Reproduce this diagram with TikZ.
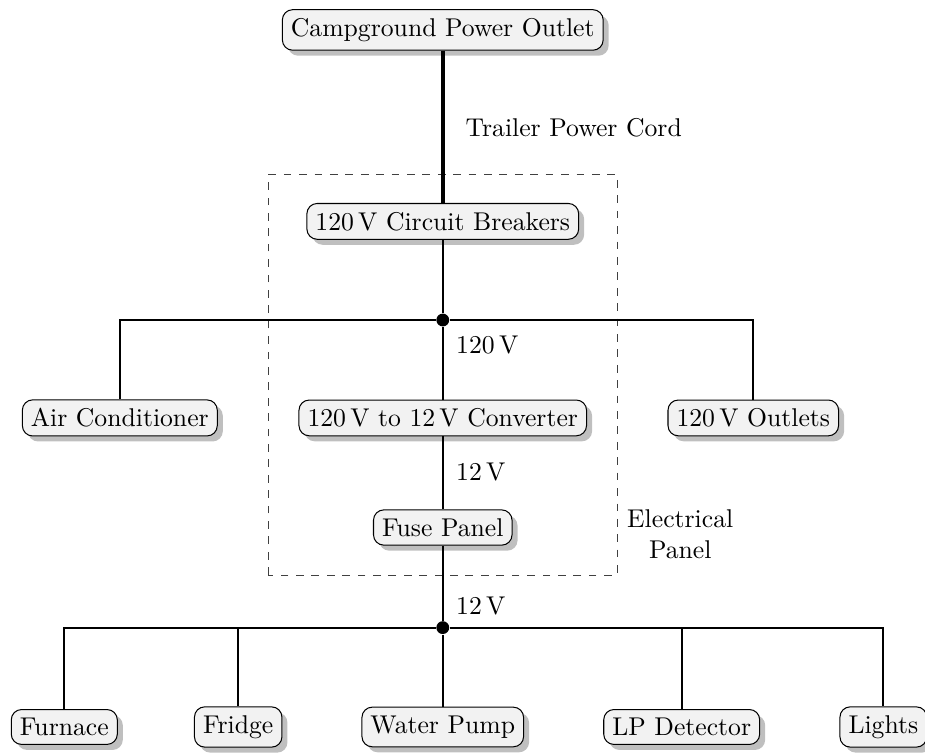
\documentclass[tikz,border=0pt]{standalone}
\usetikzlibrary{shadows}

\tikzset{
  unit/.style={draw, rounded corners=4pt, fill=black!5, drop shadow},
  wire/.style={thick},
  cord/.style={ultra thick},
  junction/.style={circle, fill, inner sep=0pt, minimum size=5pt}
}

\begin{document}
\begin{tikzpicture}

        \useasboundingbox (0,0) rectangle (12.66,10.33);

        % panel outline
        \draw[dashed, black!75] (3.67,2.46) rectangle (8.45,7.94);

        \begin{scope}[every node/.style={unit}]
          \node (1)  at (6.06,9.92) {Campground Power Outlet};
          \node (2)  at (6.06,7.30) {120\,V Circuit Breakers};
          \node (3)  at (1.64,4.61) {Air Conditioner};
          \node (4)  at (6.06,4.61) {120\,V to 12\,V Converter};
          \node (5)  at (10.31,4.61) {120\,V Outlets};
          \node (6)  at (6.06,3.11) {Fuse Panel};
          \node (7)  at (0.88,0.38) {Furnace};
          \node (8)  at (3.26,0.38) {Fridge};
          \node (9)  at (6.06,0.38) {Water Pump};
          \node (10) at (9.33,0.38) {LP Detector};
          \node (11) at (12.09,0.38) {Lights};
        \end{scope}

        \node[junction] (a) at (6.06,5.95) {};
        \node[junction] (b) at (6.06,1.74) {};

        \draw[cord] (1) -- (2);
        \draw[wire] (2) -- (a);
        \draw[wire] (3) |- (a) -| (5);
        \draw[wire] (a) -- (4);
        \draw[wire] (4) -- (6);
        \draw[wire] (6) -- (b);
        \draw[wire] (7) |- (b) -| (11);
        \draw[wire] (8) |- (b);
        \draw[wire] (10) |- (b);
        \draw[wire] (b) -- (9);

        \node[anchor=west] (cordlabel) at (6.25,8.58) {Trailer Power Cord};
        \node[anchor=west] (v1) at (6.12,5.61) {120\,V};
        \node[anchor=west] (v2) at (6.12,3.87) {12\,V};
        \node[anchor=west] (v3) at (6.12,2.04) {12\,V};
        \node[align=center] (panel) at (9.31,3.02) {Electrical\\Panel};

      \end{tikzpicture}
\end{document}
